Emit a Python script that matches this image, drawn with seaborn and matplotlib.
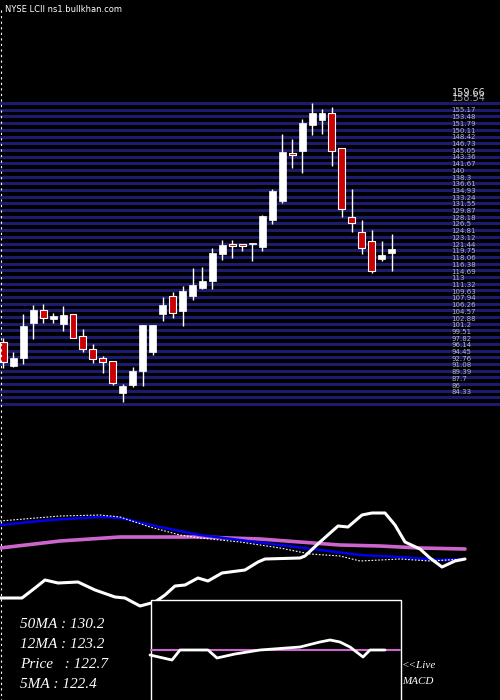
import numpy as np
import pandas as pd
import matplotlib
matplotlib.use("Agg")
import matplotlib.pyplot as plt
import seaborn as sns

opens  = [96.9,91.0,93.0,101.8,105.0,102.8,101.6,103.9,98.4,95.1,92.9,92.1,84.1,86.3,89.8,94.5,104.0,108.5,104.8,108.6,
          110.6,112.3,119.2,121.6,121.7,121.6,120.9,127.6,132.4,144.4,145.0,151.6,152.7,154.4,145.6,128.4,124.5,122.3,117.8,119.4]
closes = [92.0,93.0,101.0,105.0,102.9,103.4,103.7,97.9,95.1,92.6,92.0,86.7,85.9,89.7,101.2,101.2,106.3,104.3,109.9,111.3,
          112.3,119.3,121.3,121.2,121.2,121.8,128.6,134.9,144.8,144.0,152.1,154.5,154.6,144.9,130.5,127.0,120.7,114.9,118.8,120.3]
highs  = [97.9,94.5,103.9,106.3,106.5,104.2,106.0,103.9,100.2,96.4,93.5,92.1,86.4,90.6,101.2,101.2,108.2,109.5,111.0,115.6,
          115.9,120.5,122.6,122.6,121.7,121.8,128.9,135.3,149.2,148.1,152.9,157.0,155.4,155.9,145.6,135.4,127.6,125.1,122.3,124.0]
lows   = [90.4,90.6,91.4,97.7,101.8,101.8,99.8,97.9,94.5,91.8,89.3,86.3,82.0,85.7,86.0,93.7,102.3,103.1,101.1,107.5,
          110.2,110.2,117.6,118.2,119.9,117.4,119.9,126.6,132.0,140.8,139.5,149.0,149.2,141.2,128.5,124.7,119.2,114.2,117.3,114.9]

price_labels = [155.17,153.48,151.79,150.11,148.42,146.73,145.05,143.36,141.67,140.00,138.3,136.61,134.93,133.24,131.55,
                129.87,128.18,126.5,124.81,123.12,121.44,119.75,118.06,116.38,114.69,113,111.32,109.63,107.94,106.26,
                104.57,102.88,101.2,99.51,97.82,96.14,94.45,92.76,91.08,89.39,87.7,86,84.33]

blue_x = [0,50,100,120,160,200,240,280,320,360,400,440,465]
blue_y = [525,520,517,518,527,535,540,545,550,555,557,560,559]
pink_x = [0,60,120,200,260,300,340,380,420,465]
pink_y = [548,541,537,537,539,542,545,546,548,549]
dot_x = [0,60,100,120,150,180,200,240,280,310,340,360,400,430,465]
dot_y = [521,516,515,517,527,535,538,542,548,554,556,561,559,561,559]
wht_x = [0,22,35,45,58,78,95,115,125,140,155,165,175,185,198,208,222,245,258,265,300,305,320,338,348,362,372,385,395,405,420,430,442,455,465]
wht_y = [598,598,588,580,583,582,590,597,598,606,602,595,586,585,578,581,573,570,562,559,558,556,542,526,527,515,513,513,525,542,549,558,567,561,559]
macd_x = [150,172,180,208,217,235,260,300,320,330,340,350,363,370,385]
macd_y = [655,660,650,650,658,654,650,647,642,640,642,647,657,650,650]

sns.set_theme(style="dark")
fig = plt.figure(figsize=(5, 7), dpi=100, facecolor="black")
ax = fig.add_axes([0, 0, 1, 1])
ax.set_facecolor("black")
ax.set_xlim(-0.33, 49.87)
ax.set_ylim(7.04, 182.9)
ax.axis("off")

for p in np.arange(157.0, 81.0, -1.68):
    ax.axhline(p, color="#1c1c6e", lw=2.2, zorder=1)

n = len(opens)
xs = np.arange(n)
df = pd.DataFrame(dict(x=xs, o=opens, c=closes, h=highs, l=lows))
up = df[df.c >= df.o]
dn = df[df.c < df.o]
ax.vlines(df.x, df.l, df.h, color="white", lw=1, zorder=2)
ax.bar(up.x, np.maximum(up.c - up.o, 0.3), bottom=up.o, width=0.7, color="white", edgecolor="white", lw=0.5, zorder=3)
ax.bar(dn.x, np.maximum(dn.o - dn.c, 0.3), bottom=dn.c, width=0.7, color="#cc0000", edgecolor="white", lw=0.8, zorder=3)

ax.text(45.0, 159.66, "159.66", color="white", fontsize=7, va="center", ha="left", alpha=0.9)
ax.text(45.0, 158.3, "158.54", color="white", fontsize=7, va="center", ha="left", alpha=0.6)
for p in price_labels:
    ax.text(45.0, p, f"{p:g}", color="#dddddd", fontsize=5, va="center", ha="left", alpha=0.8)

ax2 = fig.add_axes([0, 0, 1, 1])
ax2.set_xlim(0, 500)
ax2.set_ylim(700, 0)
ax2.patch.set_alpha(0)
ax2.axis("off")

ax2.text(5, 9, "NYSE LCII ns1.bullkhan.com", color="white", fontsize=6, va="center")
ax2.plot([0.5, 0.5], [10, 700], color="white", lw=0.8, ls=(0, (2, 3)))

sns.lineplot(x=pink_x, y=pink_y, ax=ax2, color="#cc66cc", lw=2.6, sort=False)
sns.lineplot(x=blue_x, y=blue_y, ax=ax2, color="#0000ee", lw=1.8, sort=False)
sns.lineplot(x=dot_x, y=dot_y, ax=ax2, color="white", lw=0.8, ls=(0, (1.5, 1.5)), sort=False)
sns.lineplot(x=wht_x, y=wht_y, ax=ax2, color="white", lw=2.2, sort=False)

ax2.add_patch(plt.Rectangle((150.5, 600), 250, 110, fill=True, facecolor="black", edgecolor="white", lw=1, zorder=5))
ax2.plot([151, 400], [650, 650], color="#cc66cc", lw=1.5, zorder=6)
ax2.plot(macd_x, macd_y, color="white", lw=2, zorder=7)

ff = dict(family="Liberation Serif", style="italic", color="white")
ax2.text(20, 624, "50MA : 130.2", fontsize=11, va="center", zorder=8, **ff)
ax2.text(20, 645, "12MA : 123.2", fontsize=11, va="center", zorder=8, **ff)
ax2.text(20, 665, "Price   : 122.7", fontsize=11, va="center", zorder=8, **ff)
ax2.text(20, 685, "5MA : 122.4", fontsize=11, va="center", zorder=8, **ff)
ax2.text(402, 666, "<<Live", fontsize=8, va="center", zorder=8, **ff)
ax2.text(402, 681, "MACD", fontsize=8, va="center", zorder=8, **ff)

fig.savefig("out.png", dpi=100, facecolor="black")
